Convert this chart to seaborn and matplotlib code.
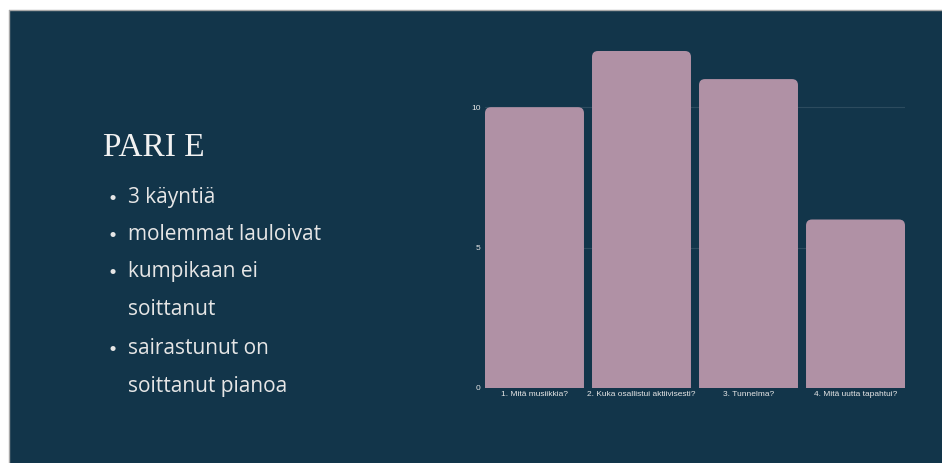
import matplotlib
matplotlib.use("Agg")
import matplotlib.pyplot as plt
from matplotlib.patches import FancyBboxPatch, Rectangle
from matplotlib.lines import Line2D
import seaborn as sns
import pandas as pd

categories = ["1. Mitä musiikkia?", "2. Kuka osallistui aktiivisesti?",
              "3. Tunnelma?", "4. Mitä uutta tapahtui?"]
values = [10, 12, 11, 6]
y_ticks = [0, 5, 10]

title = "PARI E"
bullets = [
    ["3 käyntiä"],
    ["molemmat lauloivat"],
    ["kumpikaan ei", "soittanut"],
    ["sairastunut on", "soittanut pianoa"],
]

BG = "#12354a"
BAR = "#b091a5"
TXT = "#e6e6e6"

sns.set_theme(style="white")
plt.rcParams["font.family"] = ["Lato", "DejaVu Sans"]

W, H = 942, 463
DPI = 100
fig = plt.figure(figsize=(W / DPI, H / DPI), dpi=DPI, facecolor="white")

# slide background, with a thin grey rule on its top and left edges
x0f, y1f = 8.5 / W, (H - 9.5) / H
fig.patches.append(Rectangle((x0f, 0), 1 - x0f, y1f, transform=fig.transFigure,
                             facecolor=BG, edgecolor="none", zorder=-5))
fig.lines.append(Line2D([x0f, 1], [y1f, y1f], transform=fig.transFigure,
                        color="#a8a8a8", linewidth=1.0, zorder=-4))
fig.lines.append(Line2D([x0f, x0f], [0, y1f], transform=fig.transFigure,
                        color="#a8a8a8", linewidth=1.0, zorder=-4))

# bar chart area
ax_left, ax_right = 485 / W, 905 / W
ax_bottom, ax_top = (H - 388) / H, (H - 51) / H
ax = fig.add_axes([ax_left, ax_bottom, ax_right - ax_left, ax_top - ax_bottom])
ax.set_facecolor("none")
ax.set_zorder(2)

bar_w = 0.925
df = pd.DataFrame({"kysymys": categories, "arvo": values})
sns.barplot(data=df, x="kysymys", y="arvo", color=BAR, width=bar_w,
            saturation=1, ax=ax, zorder=3)

ax.set_ylim(0, 12)
ax.set_xlim(-bar_w / 2, len(categories) - 1 + bar_w / 2)

# swap plain rectangles for bars with rounded top corners
px_per_x = (905 - 485) / (len(categories) - 1 + bar_w)
px_per_y = (388 - 51) / 12
radius_px = 6
rx = radius_px / px_per_x
aspect = (radius_px / px_per_y) / rx
for bar in list(ax.patches):
    bx, w, h = bar.get_x(), bar.get_width(), bar.get_height()
    rounded = FancyBboxPatch((bx, -1), w, h + 1,
                             boxstyle=f"round,pad=0,rounding_size={rx}",
                             mutation_aspect=aspect, facecolor=BAR,
                             edgecolor="none", zorder=3, clip_on=True)
    bar.remove()
    ax.add_patch(rounded)

ax.set_yticks(y_ticks)
ax.set_yticklabels([str(t) for t in y_ticks])
ax.yaxis.grid(True, color="#2c4b5e", linewidth=0.8, zorder=0)
ax.xaxis.grid(False)
for s in ax.spines.values():
    s.set_visible(False)
ax.tick_params(axis="both", length=0, colors=TXT, labelsize=6, pad=3)
ax.tick_params(axis="x", pad=2)
for lbl in ax.get_xticklabels() + ax.get_yticklabels():
    lbl.set_family(["Liberation Sans", "DejaVu Sans"])
ax.set_xlabel("")
ax.set_ylabel("")

# heading
fig.text(103 / W, 1 - 156 / H, title, color="#f2f2f2", fontsize=24,
         family=["Liberation Serif", "DejaVu Serif"],
         ha="left", va="baseline")

# bullet list (baselines in pixels from the top)
line_ys = [203, 240, 277, 315, 354, 392]
i = 0
for item in bullets:
    for j, line in enumerate(item):
        yb = line_ys[i]
        if j == 0:
            fig.text(113 / W, 1 - (yb - 5) / H, "•", color=TXT, fontsize=10,
                     va="center", ha="center")
        fig.text(128 / W, 1 - yb / H, line, color=TXT, fontsize=15,
                 family=["Open Sans", "DejaVu Sans"],
                 ha="left", va="baseline")
        i += 1

fig.savefig("out.png", dpi=DPI, facecolor=fig.get_facecolor())
